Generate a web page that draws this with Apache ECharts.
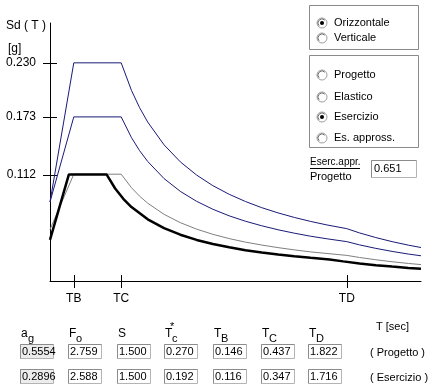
<!DOCTYPE html>
<html>
<head>
<meta charset="utf-8">
<script src="https://cdn.jsdelivr.net/npm/echarts@6/dist/echarts.min.js"></script>
<style>
html,body{margin:0;padding:0;background:#fff;}
#chart{width:435px;height:392px;}
</style>
</head>
<body>
<div id="chart"></div>
<script>
// ---- data ----
const periodsProgetto = [0, 0.146, 0.437, 0.5, 0.55, 0.6, 0.7, 0.8, 0.9, 1.0, 1.1, 1.2, 1.3, 1.4, 1.5, 1.6, 1.7, 1.822, 1.9, 2.0, 2.1, 2.2, 2.2775];
const sdElastico = [0.0833, 0.230, 0.230, 0.2010, 0.1827, 0.1675, 0.1436, 0.1256, 0.1117, 0.1005, 0.0914, 0.0838, 0.0773, 0.0718, 0.0670, 0.0628, 0.0591, 0.0552, 0.0507, 0.0458, 0.0415, 0.0378, 0.0353];
const sdProgetto = [0.0833, 0.173, 0.173, 0.1512, 0.1374, 0.1260, 0.1080, 0.0945, 0.0840, 0.0756, 0.0687, 0.0630, 0.0582, 0.0540, 0.0504, 0.0472, 0.0445, 0.0415, 0.0381, 0.0344, 0.0312, 0.0284, 0.0266];
const sdApprox = [0.0542, 0.1126, 0.1126, 0.0984, 0.0894, 0.0820, 0.0703, 0.0615, 0.0547, 0.0492, 0.0447, 0.0410, 0.0379, 0.0352, 0.0328, 0.0307, 0.0290, 0.0270, 0.0248, 0.0224, 0.0203, 0.0185, 0.0173];
const periodsEsercizio = [0, 0.116, 0.347, 0.4, 0.45, 0.5, 0.6, 0.7, 0.8, 0.9, 1.0, 1.1, 1.2, 1.3, 1.4, 1.5, 1.6, 1.716, 1.8, 1.9, 2.0, 2.1, 2.2, 2.2775];
const sdEsercizio = [0.0434, 0.1124, 0.1124, 0.0975, 0.0867, 0.0780, 0.0650, 0.0557, 0.0488, 0.0433, 0.0390, 0.0355, 0.0325, 0.0300, 0.0279, 0.0260, 0.0244, 0.0227, 0.0207, 0.0185, 0.0167, 0.0152, 0.0138, 0.0129];

const yTickValues = [0.112, 0.173, 0.230];
const yTickLabels = ['0.112', '0.173', '0.230'];
const xTickValues = [0.146, 0.437, 1.822];
const xTickLabels = ['TB', 'TC', 'TD'];

const paramHeaders = ['a', 'F', 'S', 'T', 'T', 'T', 'T'];
const paramSubs = ['g', 'o', '', 'c', 'B', 'C', 'D'];
const rowProgetto = ['0.5554', '2.759', '1.500', '0.270', '0.146', '0.437', '1.822'];
const rowEsercizio = ['0.2896', '2.588', '1.500', '0.192', '0.116', '0.347', '1.716'];
const rowNames = ['( Progetto )', '( Esercizio )'];
const componentOptions = ['Orizzontale', 'Verticale'];
const spectrumOptions = ['Progetto', 'Elastico', 'Esercizio', 'Es. appross.'];
const ratioValue = '0.651';

// ---- build ----
const FONT = '"Liberation Sans", Arial, sans-serif';
const zip = (xs, ys) => xs.map((x, i) => [x, ys[i]]);
const tickMap = {};
xTickValues.forEach((v, i) => { tickMap[v] = xTickLabels[i]; });
const yMap = {};
yTickValues.forEach((v, i) => { yMap[v] = yTickLabels[i]; });

const graphic = [];
function txt(x, y, s, size) {
  graphic.push({
    type: 'text', x: x, y: y, silent: true,
    style: { text: s, fill: '#000', font: (size || 12) + 'px ' + FONT, verticalAlign: 'middle' }
  });
}
function radio(cx, cy, checked) {
  graphic.push({ type: 'circle', silent: true, shape: { cx: cx, cy: cy, r: 5 }, style: { fill: '#fff', stroke: '#a0a0a0', lineWidth: 1 } });
  graphic.push({ type: 'arc', silent: true, shape: { cx: cx, cy: cy, r: 4, startAngle: Math.PI * 0.75, endAngle: Math.PI * 1.75 }, style: { fill: null, stroke: '#707070', lineWidth: 1 } });
  if (checked) graphic.push({ type: 'circle', silent: true, shape: { cx: cx, cy: cy, r: 2 }, style: { fill: '#000' } });
}
function box(x, y, w, h, fill) {
  graphic.push({ type: 'rect', silent: true, shape: { x: x + 0.5, y: y + 0.5, width: w, height: h }, style: { fill: fill || '#fff', stroke: '#b4b4b4', lineWidth: 1 } });
  graphic.push({ type: 'polyline', silent: true, shape: { points: [[x + 0.5, y + h + 0.5], [x + 0.5, y + 0.5], [x + w + 0.5, y + 0.5]] }, style: { stroke: '#8c8c8c', lineWidth: 1, fill: null } });
}

// axis titles
txt(6, 26, 'Sd ( T )', 12);
txt(8, 49, '[g]', 12);

// right panel
graphic.push({ type: 'rect', silent: true, shape: { x: 309.5, y: 5.5, width: 109, height: 44 }, style: { fill: '#fff', stroke: '#8a8a8a', lineWidth: 1 } });
graphic.push({ type: 'rect', silent: true, shape: { x: 309.5, y: 55.5, width: 109, height: 92 }, style: { fill: '#fff', stroke: '#8a8a8a', lineWidth: 1 } });
const compY = [23, 38];
componentOptions.forEach((s, i) => { radio(322, compY[i], i === 0); txt(334, compY[i], s, 11); });
const specY = [75, 97, 117, 138];
spectrumOptions.forEach((s, i) => { radio(322, specY[i], i === 2); txt(334, specY[i], s, 11); });
txt(310, 162, 'Eserc.appr.', 10);
graphic.push({ type: 'line', silent: true, shape: { x1: 310, y1: 168.5, x2: 360, y2: 168.5 }, style: { stroke: '#000', lineWidth: 1 } });
txt(310, 177, 'Progetto', 11);
box(371, 160, 45, 17, '#fff');
txt(374, 169, ratioValue, 11);

// parameter table
const colX = [20, 68, 117, 164, 213, 261, 308];
paramHeaders.forEach((h, i) => {
  txt(colX[i] + 1, 334, h, 12);
  if (paramSubs[i]) txt(colX[i] + 8, 339, paramSubs[i], 11);
});
txt(colX[3] + 6, 327, '*', 11);
txt(376, 327, 'T [sec]', 11);
[rowProgetto, rowEsercizio].forEach((row, r) => {
  const by = r === 0 ? 344 : 369;
  row.forEach((v, i) => {
    box(colX[i], by, 33, 14, i === 0 ? '#ececec' : '#fff');
    txt(colX[i] + 2, by + 8, v, 11);
  });
  txt(370, by + 9, rowNames[r], 11);
});

const chart = echarts.init(document.getElementById('chart'), null, { renderer: 'canvas' });
const axisLineStyle = { lineStyle: { color: '#000', width: 1 } };
const option = {
  animation: false,
  backgroundColor: '#fff',
  grid: { left: 50, right: 14, top: 23, bottom: 111 },
  xAxis: [
    {
      type: 'value', min: 0, max: 2.2775, position: 'bottom',
      axisLine: axisLineStyle,
      axisTick: { show: true, inside: false, length: 7, customValues: xTickValues, lineStyle: { color: '#000' } },
      axisLabel: { show: true, customValues: xTickValues, margin: 12, color: '#000', fontSize: 12, fontFamily: FONT, formatter: v => tickMap[v] || '' },
      splitLine: { show: false }
    },
    {
      type: 'value', min: 0, max: 2.2775, position: 'bottom', gridIndex: 0,
      axisLine: { show: false },
      axisTick: { show: true, inside: true, length: 6, customValues: xTickValues, lineStyle: { color: '#000' } },
      axisLabel: { show: false },
      splitLine: { show: false }
    }
  ],
  yAxis: [
    {
      type: 'value', min: 0, max: 0.272, position: 'left',
      axisLine: axisLineStyle,
      axisTick: { show: true, inside: false, length: 7, customValues: yTickValues, lineStyle: { color: '#000' } },
      axisLabel: { show: true, customValues: yTickValues, margin: 14, color: '#000', fontSize: 12, fontFamily: FONT, formatter: v => yMap[v] || '' },
      splitLine: { show: false }
    },
    {
      type: 'value', min: 0, max: 0.272, position: 'left', gridIndex: 0,
      axisLine: { show: false },
      axisTick: { show: true, inside: true, length: 7, customValues: yTickValues, lineStyle: { color: '#000' } },
      axisLabel: { show: false },
      splitLine: { show: false }
    }
  ],
  series: [
    { type: 'line', data: zip(periodsProgetto, sdElastico), showSymbol: false, silent: true, lineStyle: { color: '#1a1a78', width: 1 }, z: 2 },
    { type: 'line', data: zip(periodsProgetto, sdProgetto), showSymbol: false, silent: true, lineStyle: { color: '#1a1a78', width: 1 }, z: 2 },
    { type: 'line', data: zip(periodsProgetto, sdApprox), showSymbol: false, silent: true, lineStyle: { color: '#808080', width: 1 }, z: 3 },
    { type: 'line', data: zip(periodsEsercizio, sdEsercizio), showSymbol: false, silent: true, lineStyle: { color: '#000', width: 2.5 }, z: 4 }
  ],
  graphic: graphic
};
chart.setOption(option);
</script>
</body>
</html>
